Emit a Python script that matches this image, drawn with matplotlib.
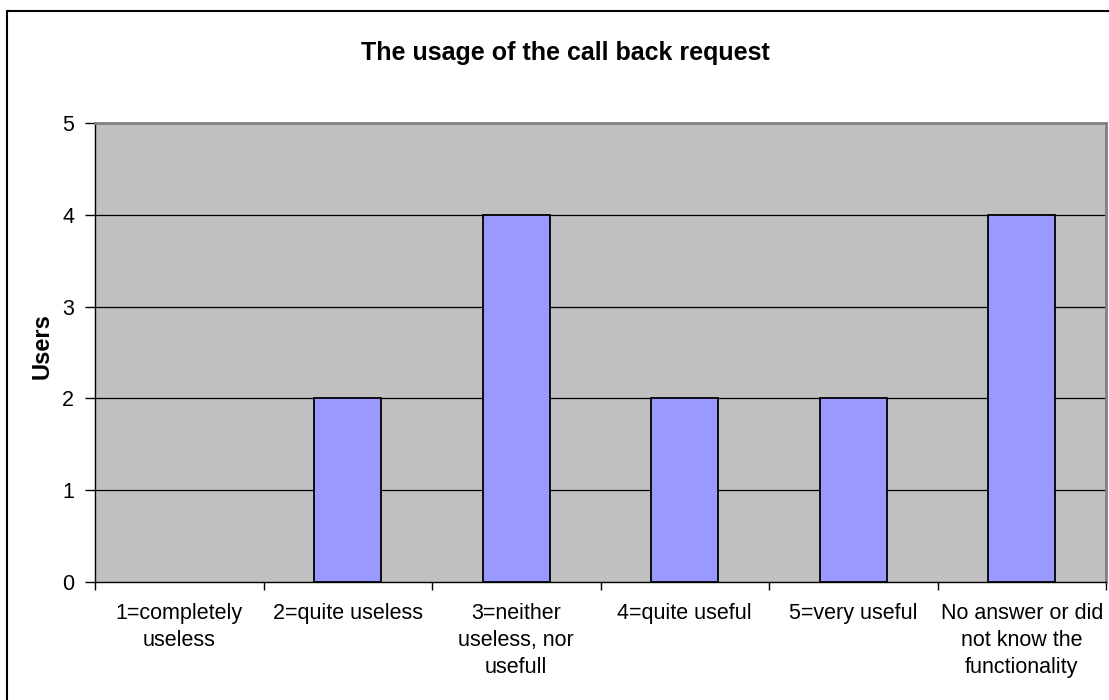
import matplotlib.pyplot as plt
from matplotlib.patches import Rectangle

categories = [
    "1=completely\nuseless",
    "2=quite useless",
    "3=neither\nuseless, nor\nusefull",
    "4=quite useful",
    "5=very useful",
    "No answer or did\nnot know the\nfunctionality",
]
users = [0, 2, 4, 2, 2, 4]
y_ticks = [0, 1, 2, 3, 4, 5]

plt.rcParams["font.family"] = ["Liberation Sans", "DejaVu Sans"]

W, H = 1109, 700
fig = plt.figure(figsize=(W / 100, H / 100), dpi=100)
ax = fig.add_axes([95 / W, 1 - 582 / H, (1106 - 95) / W, (582 - 123) / H])
ax.set_facecolor("#C0C0C0")

# chart frame (runs off the right and bottom edges)
fig.patches.append(Rectangle((7 / W, -0.05), 1.2, 1 - 11 / H + 0.05,
                             transform=fig.transFigure, fill=False,
                             edgecolor="black", linewidth=1.5))

x = list(range(len(categories)))
bars = ax.bar(x, users, width=0.4, color="#9999FF", edgecolor="black",
              linewidth=1.3, zorder=3)
for b, v in zip(bars, users):
    if v == 0:
        b.set_linewidth(0)

ax.set_xlim(-0.5, len(categories) - 0.5)
ax.set_ylim(0, 5)
ax.set_yticks(y_ticks)
for v in y_ticks[1:-1]:
    ax.axhline(v, color="black", linewidth=0.9, zorder=1)

ax.set_xticks(x)
ax.set_xticklabels(categories, fontsize=15.5, linespacing=1.38)
ax.set_xticks([i - 0.5 for i in range(len(categories) + 1)], minor=True)
ax.tick_params(axis="x", which="major", length=0, pad=15)
ax.tick_params(axis="x", which="minor", length=6, width=1, direction="out")
ax.tick_params(axis="y", length=7, width=1, labelsize=15.5, pad=8)

for side in ("top", "right"):
    ax.spines[side].set_color("#808080")
    ax.spines[side].set_linewidth(2)
for side in ("left", "bottom"):
    ax.spines[side].set_color("black")
    ax.spines[side].set_linewidth(1)

fig.text(42 / W, 1 - 346 / H, "Users", fontsize=17, fontweight="bold",
         rotation=90, ha="center", va="center")
fig.text(565 / W, 1 - 60 / H, "The usage of the call back request",
         fontsize=18, fontweight="bold", ha="center", va="baseline")

fig.savefig("out.png", dpi=100)
